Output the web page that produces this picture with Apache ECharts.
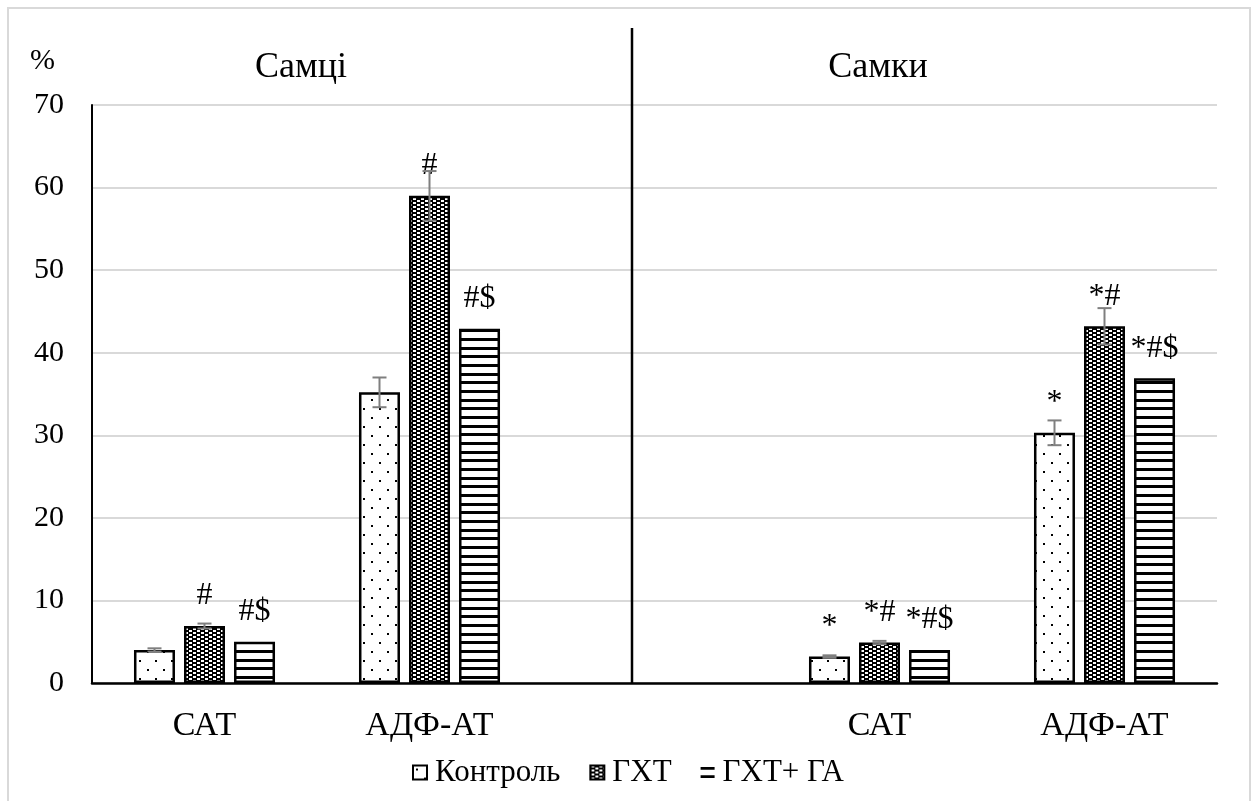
<!DOCTYPE html>
<html>
<head>
<meta charset="utf-8">
<script src="https://cdn.jsdelivr.net/npm/echarts@6/dist/echarts.min.js"></script>
<style>
html,body{margin:0;padding:0;background:#fff;}
#chart{width:1256px;height:801px;}
</style>
</head>
<body>
<div id="chart"></div>
<script>
// ---- data ----
var categories = ['САТ', 'АДФ-АТ', '', 'САТ', 'АДФ-АТ'];
var seriesNames = ['Контроль', 'ГХТ', 'ГХТ+ ГА'];
var controlVals = [4.0, 35.2, null, 3.2, 30.3];
var ghtVals = [6.9, 59.0, null, 4.9, 43.2];
var ghtGaVals = [5.0, 42.9, null, 4.0, 36.9];
var controlErr = [0.2, 1.8, null, 0.15, 1.5];
var ghtErr = [0.3, 3.0, null, 0.2, 2.2];
var ghtGaErr = [null, null, null, null, null];
var controlMarks = ['', '', '', '*', '*'];
var ghtMarks = ['#', '#', '', '*#', '*#'];
var ghtGaMarks = ['#$', '#$', '', '*#$', '*#$'];
var yTicks = [0, 10, 20, 30, 40, 50, 60, 70];
var groupTitles = ['Самці', 'Самки'];

// ---- patterns ----
function mk(w, h, draw) {
  var c = document.createElement('canvas');
  c.width = w; c.height = h;
  var g = c.getContext('2d');
  g.fillStyle = '#fff'; g.fillRect(0, 0, w, h);
  g.fillStyle = '#000';
  draw(g);
  return c;
}
var dotsPat = mk(16, 18, function (g) {
  g.fillRect(3, 3, 2, 2);
  g.fillRect(11, 12, 2, 2);
});
var checkPat = mk(8, 4, function (g) {
  g.fillRect(0, 0, 8, 4);
  g.fillStyle = '#fff';
  g.fillRect(1, 0, 3, 2);
  g.fillRect(5, 2, 3, 2);
});
var stripePat = mk(4, 26, function (g) {
  g.fillRect(0, 0, 4, 3);
  g.fillRect(0, 9, 4, 3);
  g.fillRect(0, 17, 4, 3);
});
var patterns = [dotsPat, checkPat, stripePat];

var FONT = 'Liberation Serif';
var BAR_W = 41, GAP = 9;
var valsAll = [controlVals, ghtVals, ghtGaVals];
var errAll = [controlErr, ghtErr, ghtGaErr];
var marksAll = [controlMarks, ghtMarks, ghtGaMarks];

var chart = echarts.init(document.getElementById('chart'), null, {renderer: 'canvas'});

var series = [];
valsAll.forEach(function (vals, si) {
  series.push({
    name: seriesNames[si],
    type: 'bar',
    barWidth: BAR_W,
    barGap: (GAP / BAR_W * 100).toFixed(1) + '%',
    data: vals.map(function (v, i) {
      return {value: v, label: {formatter: marksAll[si][i]}};
    }),
    itemStyle: {
      color: {image: patterns[si], repeat: 'repeat'},
      borderColor: '#000',
      borderWidth: 2.5
    },
    label: {
      show: true,
      position: 'top',
      distance: 14,
      fontFamily: FONT,
      fontSize: 32,
      color: '#000'
    },
    z: 2
  });
});
// error bars
valsAll.forEach(function (vals, si) {
  var d = [];
  vals.forEach(function (v, i) {
    if (v != null && errAll[si][i] != null) d.push([i, v - errAll[si][i], v + errAll[si][i]]);
  });
  series.push({
    type: 'custom',
    silent: true,
    z: 5,
    data: d,
    encode: {x: 0, y: [1, 2]},
    renderItem: function (params, api) {
      var off = (si - 1) * (BAR_W + GAP);
      var lo = api.coord([api.value(0), api.value(1)]);
      var hi = api.coord([api.value(0), api.value(2)]);
      var x = lo[0] + off;
      var st = {stroke: '#7f7f7f', lineWidth: 2};
      return {type: 'group', children: [
        {type: 'line', shape: {x1: x, y1: lo[1], x2: x, y2: hi[1]}, style: st},
        {type: 'line', shape: {x1: x - 7, y1: lo[1], x2: x + 7, y2: lo[1]}, style: st},
        {type: 'line', shape: {x1: x - 7, y1: hi[1], x2: x + 7, y2: hi[1]}, style: st}
      ]};
    }
  });
});

chart.setOption({
  animation: false,
  backgroundColor: '#fff',
  grid: {left: 92, right: 39, top: 105, bottom: 118},
  legend: {
    bottom: 8,
    left: 'center',
    itemWidth: 14,
    itemHeight: 14,
    itemGap: 29,
    icon: 'rect',
    data: [
      {name: seriesNames[0]},
      {name: seriesNames[1]},
      {name: seriesNames[2], icon: 'path://M0,0H10V2H0Z M0,6H10V8H0Z', itemStyle: {color: '#000', borderWidth: 0}}
    ],
    textStyle: {fontFamily: FONT, fontSize: 31, color: '#000', padding: [0, 0, 0, 3]}
  },
  xAxis: {
    type: 'category',
    data: categories,
    axisLine: {lineStyle: {color: '#000', width: 2.5}},
    axisTick: {show: false},
    axisLabel: {fontFamily: FONT, fontSize: 34, color: '#000', margin: 26}
  },
  yAxis: {
    type: 'value',
    min: yTicks[0],
    max: yTicks[yTicks.length - 1],
    interval: yTicks[1] - yTicks[0],
    axisLine: {show: true, lineStyle: {color: '#000', width: 2}},
    axisTick: {show: false},
    splitLine: {lineStyle: {color: '#d9d9d9', width: 2}},
    axisLabel: {fontFamily: FONT, fontSize: 30, color: '#000', margin: 28}
  },
  graphic: [
    {type: 'rect', shape: {x: 8, y: 8, width: 1242, height: 820}, style: {fill: 'none', stroke: '#d9d9d9', lineWidth: 2}, z: 0},
    {type: 'line', shape: {x1: 632, y1: 28, x2: 632, y2: 683}, style: {stroke: '#000', lineWidth: 2.5}, z: 10},
    {type: 'text', left: 30, top: 46, style: {text: '%', font: '30px "Liberation Serif"', fill: '#000'}},
    {type: 'text', x: 301, y: 68, style: {text: groupTitles[0], font: '36px "Liberation Serif"', fill: '#000', textAlign: 'center', textVerticalAlign: 'middle'}},
    {type: 'text', x: 878, y: 68, style: {text: groupTitles[1], font: '36px "Liberation Serif"', fill: '#000', textAlign: 'center', textVerticalAlign: 'middle'}}
  ],
  series: series
});
</script>
</body>
</html>
